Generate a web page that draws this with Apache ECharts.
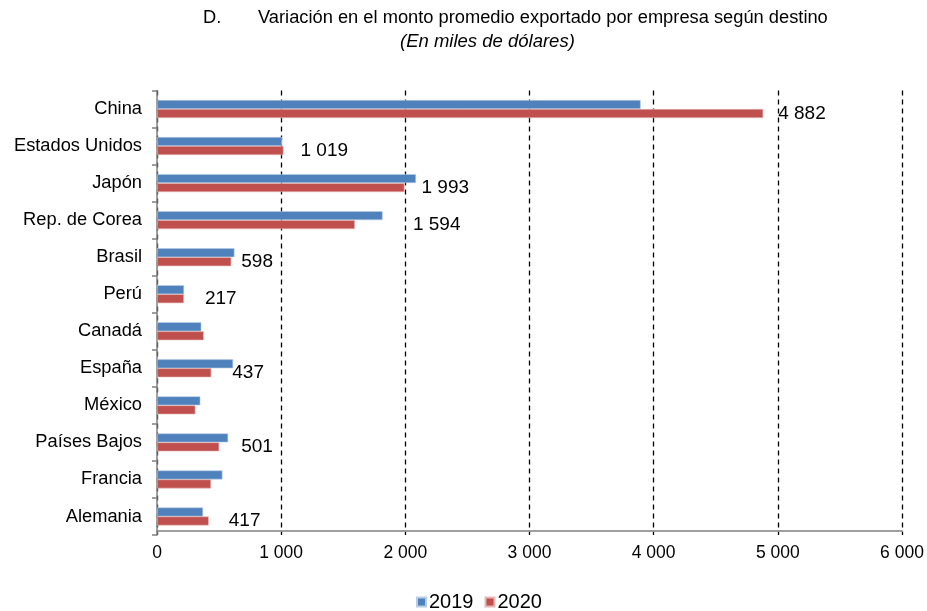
<!DOCTYPE html>
<html>
<head>
<meta charset="utf-8">
<script src="https://cdn.jsdelivr.net/npm/echarts@6/dist/echarts.min.js"></script>
<style>
    html, body {margin: 0; padding: 0; background: #fff;}
    #main {width: 927px; height: 611px;}
</style>
</head>
<body>
<div id="main"></div>
<script>
// destinos, de arriba hacia abajo
var categories = ['China', 'Estados Unidos', 'Japón', 'Rep. de Corea', 'Brasil', 'Perú',
    'Canadá', 'España', 'México', 'Países Bajos', 'Francia', 'Alemania'];
var values2019 = [3895, 1008, 2086, 1817, 624, 218, 357, 613, 349, 573, 527, 371];
var values2020 = [4882, 1019, 1993, 1594, 598, 217, 377, 437, 309, 501, 435, 417];
var xTicks = [0, 1000, 2000, 3000, 4000, 5000, 6000];

// separacion de cada etiqueta respecto a la barra (null = sin etiqueta)
var labelGap = [15, 17, 17, 58, 10, 21, null, 21, null, 22, null, 20];

var FONT = 'Liberation Sans, Arial, sans-serif';

function fmt(v) {
    return String(v).replace(/\B(?=(\d{3})+(?!\d))/g, ' ');
}

var data2020 = values2020.map(function (v, i) {
    var gap = labelGap[i];
    return {
        value: v,
        label: gap === null ? {show: false} : {show: true, distance: gap}
    };
});

var myChart = echarts.init(document.getElementById('main'));
myChart.setOption({
    animation: false,
    textStyle: {fontFamily: FONT},
    title: [
        {text: 'D.', left: 203, top: 9, padding: 0,
            textStyle: {fontFamily: FONT, fontSize: 18.3, fontWeight: 'normal', color: '#000'}},
        {text: 'Variación en el monto promedio exportado por empresa según destino', left: 258, top: 9, padding: 0,
            textStyle: {fontFamily: FONT, fontSize: 18.3, fontWeight: 'normal', color: '#000'}},
        {text: '(En miles de dólares)', left: 400, top: 32, padding: 0,
            textStyle: {fontFamily: FONT, fontSize: 18.5, fontWeight: 'normal', fontStyle: 'italic', color: '#000'}}
    ],
    legend: {
        top: 587,
        left: 411,
        itemWidth: 9,
        itemHeight: 9,
        itemGap: 11,
        icon: 'rect',
        textStyle: {fontFamily: FONT, fontSize: 20, color: '#000', padding: [0, 0, 0, -2]},
        data: ['2019', '2020']
    },
    grid: {left: 157, right: 25, top: 90.5, bottom: 76, containLabel: false},
    xAxis: {
        type: 'value',
        min: 0,
        max: 6000,
        interval: 1000,
        offset: -4,
        axisLine: {show: true, lineStyle: {color: '#808080', width: 1.5}},
        axisTick: {show: false},
        axisLabel: {
            fontFamily: FONT, fontSize: 17.5, color: '#000', margin: 13,
            formatter: function (v) { return xTicks.indexOf(v) >= 0 ? fmt(v) : ''; }
        },
        splitLine: {show: true, lineStyle: {color: '#000', type: [5, 4], width: 1.3}}
    },
    yAxis: {
        type: 'category',
        inverse: true,
        data: categories,
        axisLine: {show: true, lineStyle: {color: '#808080', width: 1.5}},
        axisTick: {show: true, length: 5, lineStyle: {color: '#808080', width: 1.5}},
        axisLabel: {fontFamily: FONT, fontSize: 18.3, color: '#000', margin: 15}
    },
    series: [
        {
            name: '2019',
            type: 'bar',
            data: values2019,
            barWidth: 9,
            barGap: '0%',
            itemStyle: {color: '#4F81BD', borderColor: '#B9CDE5', borderWidth: 0.6}
        },
        {
            name: '2020',
            type: 'bar',
            data: data2020,
            barWidth: 9,
            barGap: '0%',
            itemStyle: {color: '#C0504D', borderColor: '#E6B9B8', borderWidth: 0.6},
            label: {
                position: 'right',
                fontFamily: FONT,
                fontSize: 19,
                color: '#000',
                formatter: function (p) { return fmt(p.value); }
            }
        }
    ]
});
</script>
</body>
</html>
